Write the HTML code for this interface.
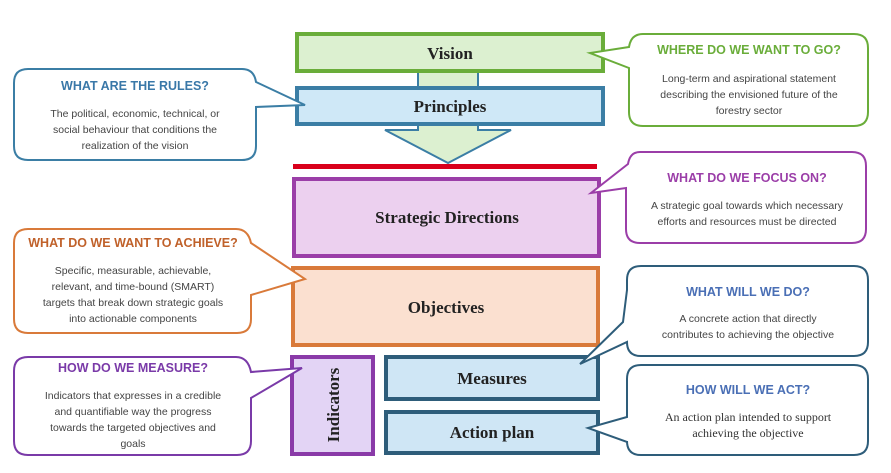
<!DOCTYPE html>
<html><head><meta charset="utf-8"><style>
html,body{margin:0;padding:0;background:#fff;width:891px;height:473px;overflow:hidden}
svg text{font-family:"Liberation Sans",sans-serif}
.t{font-weight:bold;font-size:12.5px;text-anchor:middle}
.b{font-size:10.5px;fill:#444;text-anchor:middle}
.s{font-family:"Liberation Serif",serif !important;font-weight:bold;font-size:17px;fill:#222;text-anchor:middle}
.bs{font-family:"Liberation Serif",serif !important;font-size:12px;fill:#333;text-anchor:middle}
</style></head><body>
<svg width="891" height="473" viewBox="0 0 891 473" xmlns="http://www.w3.org/2000/svg">
<!-- arrow shaft and head -->
<rect x="418" y="72" width="60" height="60" fill="#dcf0d0" stroke="#3b7ea5" stroke-width="2"/>
<polygon points="385,130 511,130 448,163" fill="#dcf0d0" stroke="#3b7ea5" stroke-width="2"/>
<rect x="419" y="127" width="58" height="6" fill="#dcf0d0"/>
<!-- Vision -->
<rect x="297" y="34" width="306" height="37" fill="#dcf0d0" stroke="#6aad3a" stroke-width="4"/>
<text x="450" y="59" class="s">Vision</text>
<!-- Principles -->
<rect x="297" y="88" width="306" height="36" fill="#cfe8f7" stroke="#3b7ea5" stroke-width="4"/>
<text x="450" y="112" class="s">Principles</text>
<!-- Red line -->
<rect x="293" y="164" width="304" height="5" fill="#d9001b"/>
<!-- Strategic -->
<rect x="294" y="179" width="305" height="77" fill="#ecd0ef" stroke="#9b3ea8" stroke-width="4"/>
<text x="447" y="223" class="s">Strategic Directions</text>
<!-- Objectives -->
<rect x="293" y="268" width="305" height="77" fill="#fbe0d0" stroke="#d97a3a" stroke-width="4"/>
<text x="446" y="313" class="s">Objectives</text>
<!-- Indicators -->
<rect x="292" y="357" width="81" height="97" fill="#e3d4f5" stroke="#8a3aa8" stroke-width="4"/>
<text x="0" y="0" class="s" transform="translate(339,405) rotate(-90)">Indicators</text>
<!-- Measures / Action plan -->
<rect x="386" y="357" width="212" height="42" fill="#cfe6f5" stroke="#2e5d7a" stroke-width="4"/>
<text x="492" y="384" class="s">Measures</text>
<rect x="386" y="412" width="212" height="41" fill="#cfe6f5" stroke="#2e5d7a" stroke-width="4"/>
<text x="492" y="438" class="s">Action plan</text>

<!-- Callouts on top; pointer tips just inside boxes -->
<path d="M28,69 H242 Q254,69 256,82 L305,105 L256,107 V146 Q256,160 242,160 H28 Q14,160 14,146 V83 Q14,69 28,69 Z" fill="#fff" stroke="#3b7ea5" stroke-width="2"/>
<text x="135" y="90" class="t" fill="#3a78a8">WHAT ARE THE RULES?</text>
<text x="135" y="117" class="b">The political, economic, technical, or</text>
<text x="135" y="133" class="b">social behaviour that conditions the</text>
<text x="135" y="149" class="b">realization of the vision</text>

<path d="M643,34 H854 Q868,34 868,48 V112 Q868,126 854,126 H643 Q629,126 629,112 V68 L590,53 L629,47 Q631,34 643,34 Z" fill="#fff" stroke="#6aad3a" stroke-width="2"/>
<text x="749" y="54" class="t" fill="#6aad3a">WHERE DO WE WANT TO GO?</text>
<text x="749" y="82" class="b">Long-term and aspirational statement</text>
<text x="749" y="98" class="b">describing the envisioned future of the</text>
<text x="749" y="114" class="b">forestry sector</text>

<path d="M640,152 H852 Q866,152 866,166 V229 Q866,243 852,243 H640 Q626,243 626,229 V188 L591,193 L628,164 Q630,152 640,152 Z" fill="#fff" stroke="#9b3ea8" stroke-width="2"/>
<text x="747" y="182" class="t" fill="#9b3ea8">WHAT DO WE FOCUS ON?</text>
<text x="747" y="209" class="b">A strategic goal towards which necessary</text>
<text x="747" y="225" class="b">efforts and resources must be directed</text>

<path d="M28,229 H236 Q248,229 251,243 L305,279 L251,295 V319 Q251,333 237,333 H28 Q14,333 14,319 V243 Q14,229 28,229 Z" fill="#fff" stroke="#d97a3a" stroke-width="2"/>
<text x="133" y="247" class="t" fill="#c0612a">WHAT DO WE WANT TO ACHIEVE?</text>
<text x="133" y="274" class="b">Specific, measurable, achievable,</text>
<text x="133" y="290" class="b">relevant, and time-bound (SMART)</text>
<text x="133" y="306" class="b">targets that break down strategic goals</text>
<text x="133" y="322" class="b">into actionable components</text>

<path d="M28,357 H236 Q248,357 251,372 L302,368 L251,398 V441 Q251,455 237,455 H28 Q14,455 14,441 V371 Q14,357 28,357 Z" fill="#fff" stroke="#7a3aa8" stroke-width="2"/>
<text x="133" y="372" class="t" fill="#7a3aa8">HOW DO WE MEASURE?</text>
<text x="133" y="399" class="b">Indicators that expresses in a credible</text>
<text x="133" y="415" class="b">and quantifiable way the progress</text>
<text x="133" y="431" class="b">towards the targeted objectives and</text>
<text x="133" y="447" class="b">goals</text>

<path d="M641,266 H854 Q868,266 868,280 V342 Q868,356 854,356 H641 Q627,356 627,342 V342 L580,364 L623,322 L627,290 V280 Q627,266 641,266 Z" fill="#fff" stroke="#2e5d7a" stroke-width="2"/>
<text x="748" y="296" class="t" fill="#4a6fb5">WHAT WILL WE DO?</text>
<text x="748" y="322" class="b">A concrete action that directly</text>
<text x="748" y="338" class="b">contributes to achieving the objective</text>

<path d="M641,365 H854 Q868,365 868,379 V441 Q868,455 854,455 H641 Q627,455 627,441 V442 L588,428 L627,417 V379 Q627,365 641,365 Z" fill="#fff" stroke="#2e5d7a" stroke-width="2"/>
<text x="748" y="394" class="t" fill="#4a6fb5">HOW WILL WE ACT?</text>
<text x="748" y="421" class="bs">An action plan intended to support</text>
<text x="748" y="437" class="bs">achieving the objective</text>
</svg>
</body></html>
